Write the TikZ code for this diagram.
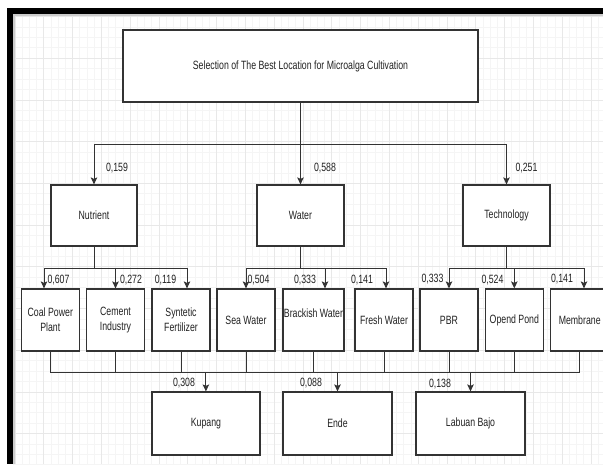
\documentclass[tikz,border=0pt]{standalone}
\usepackage{fontspec}
\setmainfont{Liberation Sans}[FakeStretch=0.73]
\usetikzlibrary{arrows.meta,calc}
\definecolor{gridminor}{HTML}{F5F5F5}
\definecolor{gridmajor}{HTML}{E8E8E8}
\definecolor{edge}{HTML}{333333}
\definecolor{txt}{HTML}{222222}
\tikzset{
  box/.style={draw=edge, line width=1.2pt, fill=white, inner sep=0pt,
    font=\fontsize{12}{15}\selectfont, text=txt, align=center},
  lvltwo/.style={box, minimum width=87pt, minimum height=61pt},
  lvlthree/.style={box, minimum width=58pt, minimum height=62pt},
  lvlfour/.style={box, minimum width=109pt, minimum height=63pt},
  wlabel/.style={font=\fontsize{12}{15}\selectfont, text=txt, inner sep=0pt},
  conn/.style={draw=edge, line width=1pt},
  arr/.style={conn, -{Stealth[length=7pt,width=6.5pt,inset=1.5pt]}},
}
\begin{document}
\begin{tikzpicture}[x=1pt,y=-1pt]
\clip (0,0) rectangle (603,464);
\fill[white] (0,0) rectangle (603,464);
% grid
\foreach \i in {0,...,82} {\draw[gridminor, line width=0.8pt] ({15+7.2*\i},14) -- ++(0,450);}
\foreach \i in {0,...,45} {\draw[gridminor, line width=0.8pt] (13,{16.6+10.425*\i}) -- ++(590,0);}
\foreach \i in {0,...,20} {\draw[gridmajor, line width=0.8pt] ({15+28.8*\i},14) -- ++(0,450);}
\foreach \i in {0,...,11} {\draw[gridmajor, line width=0.8pt] (13,{16.6+41.7*\i}) -- ++(590,0);}
% frame
\fill[black!20] (13,14) rectangle (603,16);
\fill[black!20] (13,14) rectangle (15,464);
\fill[black] (7,8) rectangle (603,14);
\fill[black] (7,8) rectangle (13,464);

% nodes
\node[box, minimum width=355pt, minimum height=72pt] (top) at (300.5,66)
  {Selection of The Best Location for Microalga Cultivation};

\node[lvltwo, minimum width=86pt] (nut) at (94,215.5) {Nutrient};
\node[lvltwo] (wat) at (300.5,215.5) {Water};
\node[lvltwo] (tec) at (506.5,215.5) {Technology};

\node[lvlthree] (coal) at (50.3,320) {Coal Power\\Plant};
\node[lvlthree] (cem) at (115.5,320) {Cement\\Industry};
\node[lvlthree] (syn) at (181,320) {Syntetic\\Fertilizer};
\node[lvlthree] (sea) at (246,320) {Sea Water};
\node[lvlthree, minimum width=61pt] (bra) at (313.5,320) {};
\node[wlabel] (bratext) at (313.5,313) {Brackish Water};
\node[lvlthree] (fre) at (384,320) {Fresh Water};
\node[lvlthree] (pbr) at (449,320) {PBR};
\node[lvlthree] (opd) at (514.3,320) {Opend Pond};
\node[lvlthree] (mem) at (579.7,320) {Membrane};

\node[lvlfour, minimum width=108pt] (kup) at (205.9,423.5) {Kupang};
\node[lvlfour] (ende) at (337.5,423.5) {Ende};
\node[lvlfour] (lab) at (470.5,423.5) {Labuan Bajo};

% level 1 -> 2
\coordinate (b1) at (300.5,144);
\draw[conn] (top.south) -- (b1);
\draw[arr] (b1) -| (nut.north);
\draw[arr] (b1) -- (wat.north);
\draw[arr] (b1) -| (tec.north);

% level 2 -> 3
\coordinate (b2) at (94,268);
\draw[conn] (nut.south) -- (b2);
\draw[arr] (b2) -| ([xshift=-6.3pt]coal.north);
\draw[arr] (b2) -| (cem.north);
\draw[arr] (b2) -| ([xshift=6pt]syn.north);

\coordinate (b3) at (300.5,268);
\draw[conn] (wat.south) -- (b3);
\draw[arr] (b3) -| (sea.north);
\draw[arr] (b3) -| ([xshift=11.5pt]bra.north);
\draw[arr] (b3) -| ([xshift=2pt]fre.north);

\coordinate (b4) at (506.5,268);
\draw[conn] (tec.south) -- (b4);
\draw[arr] (b4) -| (pbr.north);
\draw[arr] (b4) -| (opd.north);
\draw[arr] (b4) -| ([xshift=4.3pt]mem.north);

% level 3 -> 4
\coordinate (bus) at (0,372);
\foreach \n in {coal,cem,syn,sea,bra,fre,pbr,opd,mem}
  {\draw[conn] (\n.south) -- (\n.south |- bus);}
\draw[conn] (coal.south |- bus) -- (mem.south |- bus);
\draw[arr] (kup.north |- bus) -- (kup.north);
\draw[arr] (ende.north |- bus) -- (ende.north);
\draw[arr] (lab.north |- bus) -- (lab.north);

% weights
\node[wlabel] (w1) at (117,168) {0,159};
\node[wlabel] (w2) at (325,168) {0,588};
\node[wlabel] (w3) at (526.5,168) {0,251};
\node[wlabel] (w4) at (58.5,280) {0,607};
\node[wlabel] (w5) at (131,280) {0,272};
\node[wlabel] (w6) at (165.5,280) {0,119};
\node[wlabel] (w7) at (258.5,280) {0,504};
\node[wlabel] (w8) at (305,280) {0,333};
\node[wlabel] (w9) at (362,280) {0,141};
\node[wlabel] (w10) at (432.5,279) {0,333};
\node[wlabel] (w11) at (492.5,280) {0,524};
\node[wlabel] (w12) at (562,279) {0,141};
\node[wlabel] (w13) at (184,383) {0,308};
\node[wlabel] (w14) at (311,383) {0,088};
\node[wlabel] (w15) at (440,384) {0,138};
\end{tikzpicture}
\end{document}
